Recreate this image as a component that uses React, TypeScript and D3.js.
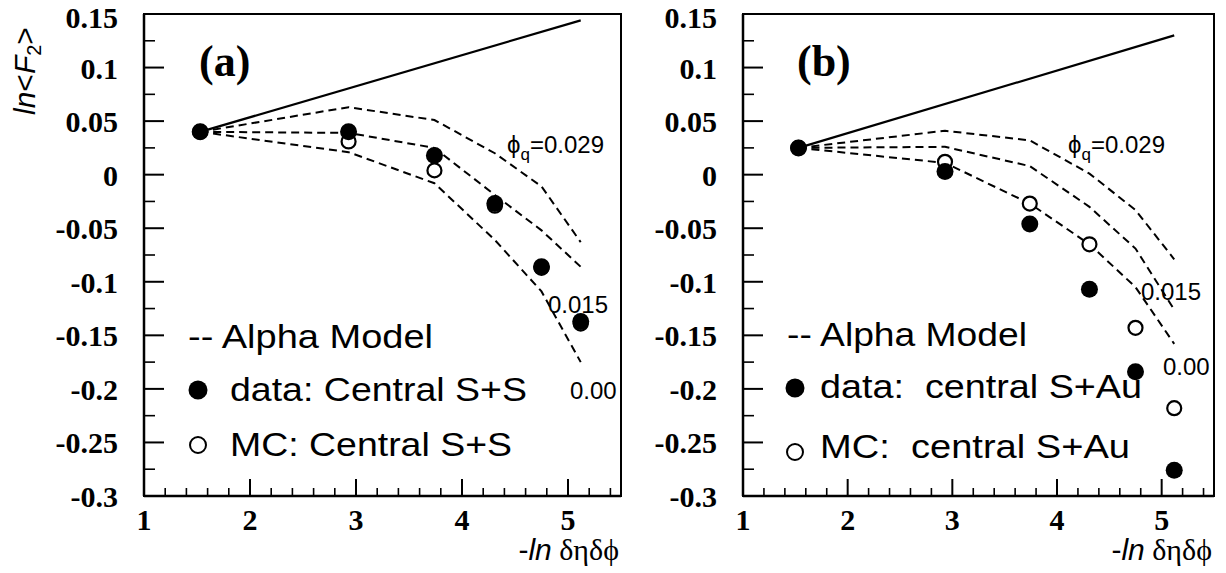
import React from 'react';
import * as d3 from 'd3';

// ---------- data ----------
const X_BINS = [1.53, 2.93, 3.74, 4.31, 4.75, 5.12];
const SOLID_X = [1.53, 5.12];

// Panel (a): central S+S
const A_DATA = [0.040, 0.040, 0.018, -0.027, -0.086, -0.137];
const A_MC = [0.040, 0.031, 0.004, -0.029, -0.087, -0.139];
const A_MODEL_029 = [0.040, 0.063, 0.051, 0.020, -0.011, -0.063];
const A_MODEL_015 = [0.040, 0.039, 0.025, -0.019, -0.052, -0.086];
const A_MODEL_000 = [0.040, 0.021, -0.008, -0.061, -0.109, -0.175];
const A_SOLID = [0.040, 0.144];

// Panel (b): central S+Au
const B_DATA = [0.025, 0.003, -0.046, -0.107, -0.184, -0.276];
const B_MC = [0.025, 0.012, -0.027, -0.065, -0.143, -0.218];
const B_MODEL_029 = [0.025, 0.041, 0.032, 0.001, -0.033, -0.079];
const B_MODEL_015 = [0.025, 0.026, 0.008, -0.030, -0.069, -0.126];
const B_MODEL_000 = [0.025, 0.011, -0.027, -0.065, -0.105, -0.158];
const B_SOLID = [0.025, 0.130];

const Y_TICKS = [0.15, 0.1, 0.05, 0, -0.05, -0.1, -0.15, -0.2, -0.25, -0.3];
const Y_TICK_LABELS = ['0.15', '0.1', '0.05', '0', '-0.05', '-0.1', '-0.15', '-0.2', '-0.25', '-0.3'];
const X_TICKS = [1, 2, 3, 4, 5];
const X_TICK_LABELS = ['1', '2', '3', '4', '5'];

const SERIF = 'Liberation Serif, Times New Roman, serif';
const SANS = 'Liberation Sans, Arial, Helvetica, sans-serif';

type PanelProps = {
  left: number; right: number; top: number; bottom: number;
  tag: string; tagX: number;
  data: number[]; mc: number[]; models: number[][]; solid: number[];
  legend: { alpha: [number, number, number]; data: [number, number, number, string]; mc: [number, number, number, string]; markX: number; dataMarkY: number; mcMarkY: number };
  lab029: [number, number]; lab015: [number, number]; lab000: [number, number];
};

function Panel(p: PanelProps) {
  const x = d3.scaleLinear().domain([1, 5.5]).range([p.left, p.right]);
  const y = d3.scaleLinear().domain([-0.3, 0.15]).range([p.bottom, p.top]);
  const line = d3.line<[number, number]>().x(d => x(d[0])).y(d => y(d[1]));
  const minorX = d3.range(1.2, 5.5, 0.2).filter(v => Math.abs(v - Math.round(v)) > 0.05);
  const minorY = d3.range(-0.275, 0.15, 0.05);
  const r = 8;
  return (
    <g>
      {/* frame */}
      <rect x={p.left} y={p.top} width={p.right - p.left} height={p.bottom - p.top} fill="none" stroke="#000" strokeWidth={2} />
      <line x1={p.left} x2={p.left} y1={p.top} y2={p.bottom} stroke="#000" strokeWidth={2.5} />
      <line x1={p.left} x2={p.right} y1={p.bottom} y2={p.bottom} stroke="#000" strokeWidth={2.5} />
      {/* y ticks */}
      {Y_TICKS.map((t, i) => (
        <g key={'yt' + i}>
          {i > 0 && i < Y_TICKS.length - 1 && <line x1={p.left} x2={p.left + 20} y1={y(t)} y2={y(t)} stroke="#000" strokeWidth={2} />}
          <text x={p.left - 26} y={Math.max(y(t) + 11, 28)} textAnchor="end" fontFamily={SERIF} fontWeight="bold" fontSize={30}>{Y_TICK_LABELS[i]}</text>
        </g>
      ))}
      {minorY.map((t, i) => (
        <line key={'ym' + i} x1={p.left} x2={p.left + 11} y1={y(t)} y2={y(t)} stroke="#000" strokeWidth={1.6} />
      ))}
      {/* x ticks */}
      {X_TICKS.map((t, i) => (
        <g key={'xt' + i}>
          {i > 0 && <line x1={x(t)} x2={x(t)} y1={p.bottom} y2={p.bottom - 17} stroke="#000" strokeWidth={2} />}
          <text x={x(t)} y={p.bottom + 34} textAnchor="middle" fontFamily={SERIF} fontWeight="bold" fontSize={30}>{X_TICK_LABELS[i]}</text>
        </g>
      ))}
      {minorX.map((t, i) => (
        <line key={'xm' + i} x1={x(t)} x2={x(t)} y1={p.bottom} y2={p.bottom - 8} stroke="#000" strokeWidth={1.6} />
      ))}
      {/* x label */}
      <text x={p.right - 2} y={p.bottom + 64} textAnchor="end" fontSize={30}>
        <tspan fontFamily={SANS}>-</tspan>
        <tspan fontFamily={SANS} fontStyle="italic">ln</tspan>
        <tspan fontFamily={SERIF}> δηδϕ</tspan>
      </text>
      {/* tag */}
      <text x={p.tagX} y={p.top + 62} fontFamily={SERIF} fontWeight="bold" fontSize={44}>{p.tag}</text>
      {/* solid line */}
      <path d={line(SOLID_X.map((v, i) => [v, p.solid[i]] as [number, number])) || ''} fill="none" stroke="#000" strokeWidth={2.2} />
      {/* model lines */}
      {p.models.map((m, k) => (
        <path key={'m' + k} d={line(X_BINS.map((v, i) => [v, m[i]] as [number, number])) || ''} fill="none" stroke="#000" strokeWidth={2} strokeDasharray="8 5" />
      ))}
      {/* curve labels */}
      <text x={p.lab029[0]} y={p.lab029[1]} fontFamily={SANS} fontSize={24}>ϕ<tspan dy={7} fontSize={17}>q</tspan><tspan dy={-7}>=0.029</tspan></text>
      <text x={p.lab015[0]} y={p.lab015[1]} fontFamily={SANS} fontSize={24}>0.015</text>
      <text x={p.lab000[0]} y={p.lab000[1]} fontFamily={SANS} fontSize={24}>0.00</text>
      {/* points: MC open then data filled */}
      {X_BINS.map((v, i) => (
        <circle key={'mc' + i} cx={x(v)} cy={y(p.mc[i])} r={r - 1} fill="#fff" stroke="#000" strokeWidth={2.2} />
      ))}
      {X_BINS.map((v, i) => (
        <circle key={'d' + i} cx={x(v)} cy={y(p.data[i])} r={r + 0.5} fill="#000" />
      ))}
      {/* legend */}
      <text x={p.legend.alpha[0]} y={p.legend.alpha[1]} fontFamily={SANS} fontSize={33} textLength={p.legend.alpha[2]} lengthAdjust="spacingAndGlyphs">-- Alpha Model</text>
      <circle cx={p.legend.markX} cy={p.legend.dataMarkY} r={9.5} fill="#000" />
      <text x={p.legend.data[0]} y={p.legend.data[1]} fontFamily={SANS} fontSize={33} textLength={p.legend.data[2]} lengthAdjust="spacingAndGlyphs" style={{ whiteSpace: 'pre' }}>{p.legend.data[3]}</text>
      <circle cx={p.legend.markX} cy={p.legend.mcMarkY} r={8} fill="#fff" stroke="#000" strokeWidth={2} />
      <text x={p.legend.mc[0]} y={p.legend.mc[1]} fontFamily={SANS} fontSize={33} textLength={p.legend.mc[2]} lengthAdjust="spacingAndGlyphs" style={{ whiteSpace: 'pre' }}>{p.legend.mc[3]}</text>
    </g>
  );
}

export default function App() {
  return (
    <svg width={1226} height={573} style={{ position: 'absolute', left: 0, top: 0, background: '#fff' }}>
      <rect x={0} y={0} width={1226} height={573} fill="#fff" />
      {/* y label */}
      <text transform="translate(35,115) rotate(-90)" fontFamily={SANS} fontSize={30}>
        <tspan fontStyle="italic">ln</tspan>
        <tspan>&lt;</tspan>
        <tspan fontStyle="italic">F</tspan>
        <tspan fontSize={20} dy={6}>2</tspan>
        <tspan dy={-6}>&gt;</tspan>
      </text>
      <Panel
        left={144} right={621} top={14} bottom={496}
        tag="(a)" tagX={199}
        data={A_DATA} mc={A_MC} models={[A_MODEL_029, A_MODEL_015, A_MODEL_000]} solid={A_SOLID}
        legend={{ alpha: [188, 348, 245], data: [230, 401, 297, 'data: Central S+S'], mc: [230, 456, 282, 'MC: Central S+S'], markX: 198, dataMarkY: 390, mcMarkY: 445 }}
        lab029={[507, 153]} lab015={[548, 313]} lab000={[570, 399]}
      />
      <Panel
        left={743} right={1214} top={14} bottom={496}
        tag="(b)" tagX={797}
        data={B_DATA} mc={B_MC} models={[B_MODEL_029, B_MODEL_015, B_MODEL_000]} solid={B_SOLID}
        legend={{ alpha: [787, 346, 240], data: [820, 398, 322, 'data:  central S+Au'], mc: [820, 458, 310, 'MC:  central S+Au'], markX: 795, dataMarkY: 388, mcMarkY: 452 }}
        lab029={[1068, 153]} lab015={[1141, 300]} lab000={[1163, 375]}
      />
    </svg>
  );
}
